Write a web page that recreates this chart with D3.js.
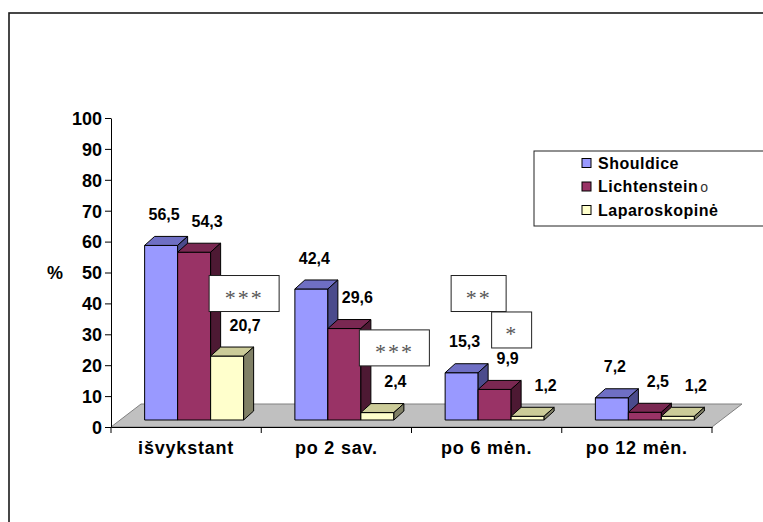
<!DOCTYPE html>
<html>
  <head>
    <meta charset="utf-8">
    <title>Išvaržų operacijos</title>
    <script src="https://d3js.org/d3.v7.min.js"></script>
    <style>
      body { margin: 0; background: #fff; }
      svg { display: block; font-family: "Liberation Sans", Arial, sans-serif; }
      .bold { font-weight: bold; fill: #000; }
    </style>
  </head>
  <body>
    <svg id="chart" width="763" height="522"></svg>
    <script>
      // chart values
      const categories = ["išvykstant", "po 2 sav.", "po 6 mėn.", "po 12 mėn."];
      const seriesNames = ["Shouldice", "Lichtenstein", "Laparoskopinė"];
      const shouldice = [56.5, 42.4, 15.3, 7.2];
      const lichtenstein = [54.3, 29.6, 9.9, 2.5];
      const laparoskopine = [20.7, 2.4, 1.2, 1.2];
      const yTicks = [0, 10, 20, 30, 40, 50, 60, 70, 80, 90, 100];
      // significance boxes: which bar they belong to, and the level they sit at
      const markers = [
        { category: "išvykstant", series: "Laparoskopinė", stars: "***", level: 43.2 },
        { category: "po 2 sav.", series: "Laparoskopinė", stars: "***", level: 25.6 },
        { category: "po 6 mėn.", series: "Shouldice", stars: "**", level: 43.2 },
        { category: "po 6 mėn.", series: "Lichtenstein", stars: "*", level: 31.4 }
      ];

      const values = [shouldice, lichtenstein, laparoskopine];
      const colours = [
        { front: "#9999ff", top: "#6f6fc4", side: "#4b4b8c" },
        { front: "#993366", top: "#7a2852", side: "#4d1933" },
        { front: "#ffffcc", top: "#cccc99", side: "#808066" }
      ];

      chart = d3.select("#chart");

      // layout
      plotLeft = 111; plotRight = 712; plotTop = 118; plotBottom = 427;
      floorDepth = { x: 30, y: -23 };   // back edge of floor
      barShift = { x: 8, y: -7 };       // bars stand a little into the floor
      barDepth = { x: 10, y: -9 };
      barWidth = 33;

      x0 = d3.scaleBand().domain(categories).range([plotLeft, plotRight]);
      bw = x0.bandwidth();
      x1 = d3.scaleBand().domain(seriesNames)
        .range([(bw - 3 * barWidth) / 2, (bw + 3 * barWidth) / 2]);
      y = d3.scaleLinear().domain([0, 100]).range([plotBottom, plotTop]);
      fmt = function(v) { return d3.format(".1f")(v).replace(".", ","); };
      // centre of a bar's front face
      barCentre = function(c, s) { return x0(c) + x1(s) + barShift.x + barWidth / 2; };

      // outer frame
      chart.append("rect")
        .attr("x", 9).attr("y", 13)
        .attr("width", 800).attr("height", 600)
        .attr("fill", "none").attr("stroke", "#1a1a1a").attr("stroke-width", 1.6);

      // floor
      chart.append("polygon")
        .attr("points", [
          [plotLeft, plotBottom], [plotRight, plotBottom],
          [plotRight + floorDepth.x, plotBottom + floorDepth.y],
          [plotLeft + floorDepth.x, plotBottom + floorDepth.y]
        ].join(" "))
        .attr("fill", "#c0c0c0").attr("stroke", "#808080").attr("stroke-width", 1);

      // bars
      bars = [];
      categories.forEach(function(c, ci) {
        seriesNames.forEach(function(s, si) {
          bars.push({ category: c, series: s, si: si, value: values[si][ci] });
        });
      });
      barGroup = chart.append("g");
      bars.forEach(function(d) {
        var bx = x0(d.category) + x1(d.series) + barShift.x;
        var yb = y(0) + barShift.y;
        var yt = y(d.value) + barShift.y;
        var w = barWidth, dx = barDepth.x, dy = barDepth.y;
        var col = colours[d.si];
        var g = barGroup.append("g")
          .attr("stroke", "#000").attr("stroke-width", 1).attr("stroke-linejoin", "round");
        g.append("polygon")
          .attr("points", [[bx, yt], [bx + w, yt], [bx + w, yb], [bx, yb]].join(" "))
          .attr("fill", col.front);
        g.append("polygon")
          .attr("points", [[bx, yt], [bx + dx, yt + dy], [bx + w + dx, yt + dy], [bx + w, yt]].join(" "))
          .attr("fill", col.top);
        g.append("polygon")
          .attr("points", [[bx + w, yt], [bx + w + dx, yt + dy], [bx + w + dx, yb + dy], [bx + w, yb]].join(" "))
          .attr("fill", col.side);
      });

      // y axis
      yAxis = d3.axisLeft(y).tickValues(yTicks).tickSize(6).tickPadding(3).tickSizeOuter(0);
      yAxisGroup = chart.append("g")
        .attr("transform", "translate(" + plotLeft + ",0)")
        .call(yAxis);
      yAxisGroup.select(".domain").attr("stroke", "#000");
      yAxisGroup.selectAll("text")
        .attr("class", "bold").style("font-size", "18px").attr("dy", "0.35em");

      // x axis
      xAxis = d3.axisBottom(x0).tickSize(0).tickPadding(14).tickSizeOuter(0);
      xAxisGroup = chart.append("g")
        .attr("transform", "translate(0," + plotBottom + ")")
        .call(xAxis);
      xAxisGroup.select(".domain").attr("stroke", "#000");
      xAxisGroup.selectAll("text")
        .attr("class", "bold").style("font-size", "18px").style("letter-spacing", "0.8px")
        .attr("dy", "0.71em");
      xAxisGroup.selectAll(".sep")
        .data(categories)
        .enter().append("line")
          .attr("x1", function(d) { return x0(d) + bw; })
          .attr("x2", function(d) { return x0(d) + bw; })
          .attr("y1", 0).attr("y2", 6)
          .attr("stroke", "#000");
      chart.append("line")
        .attr("x1", plotLeft).attr("x2", plotLeft)
        .attr("y1", plotBottom).attr("y2", plotBottom + 6)
        .attr("stroke", "#000");

      chart.append("text")
        .attr("class", "bold").style("font-size", "18px")
        .attr("x", 55).attr("y", y(50)).attr("dy", "0.35em")
        .attr("text-anchor", "middle")
        .text("%");

      // value labels
      labelShift = [3, 13, 18];
      chart.append("g").selectAll("text")
        .data(bars)
        .enter().append("text")
          .attr("class", "bold").style("font-size", "16px")
          .attr("text-anchor", "middle")
          .attr("x", function(d) { return barCentre(d.category, d.series) + labelShift[d.si]; })
          .attr("y", function(d) { return y(d.value) - 38; })
          .attr("dy", "0.35em")
          .text(function(d) { return fmt(d.value); });

      // significance boxes
      markerGroup = chart.append("g");
      markers.forEach(function(m) {
        var cx = barCentre(m.category, m.series) + 17;
        var cy = y(m.level);
        var w = 25 + 15 * m.stars.length, h = 36;
        markerGroup.append("rect")
          .attr("x", cx - w / 2).attr("y", cy - h / 2)
          .attr("width", w).attr("height", h)
          .attr("fill", "#fff").attr("stroke", "#222").attr("stroke-width", 1);
        markerGroup.append("text")
          .attr("x", cx).attr("y", cy + 11)
          .attr("text-anchor", "middle")
          .style("font-family", "'Liberation Serif', 'Times New Roman', serif")
          .style("font-size", "22px").style("letter-spacing", "2px")
          .attr("fill", "#555")
          .text(m.stars);
      });

      // legend
      legend = chart.append("g").attr("transform", "translate(534,151)");
      legend.append("rect")
        .attr("width", 240).attr("height", 75)
        .attr("fill", "#fff").attr("stroke", "#222").attr("stroke-width", 1);
      seriesNames.forEach(function(s, i) {
        var row = legend.append("g").attr("transform", "translate(0," + (12 + i * 23.5) + ")");
        row.append("rect")
          .attr("x", 48).attr("y", -4.5).attr("width", 9).attr("height", 9)
          .attr("fill", colours[i].front).attr("stroke", "#000");
        var t = row.append("text")
          .attr("class", "bold").style("font-size", "16px").style("letter-spacing", "0.5px")
          .attr("x", 64).attr("dy", "0.35em")
          .text(s);
        if (s === "Lichtenstein") {
          t.append("tspan")
            .style("font-weight", "normal").style("font-size", "14px").attr("fill", "#333")
            .attr("dx", 2).text("o");
        }
      });
    </script>
  </body>
</html>
